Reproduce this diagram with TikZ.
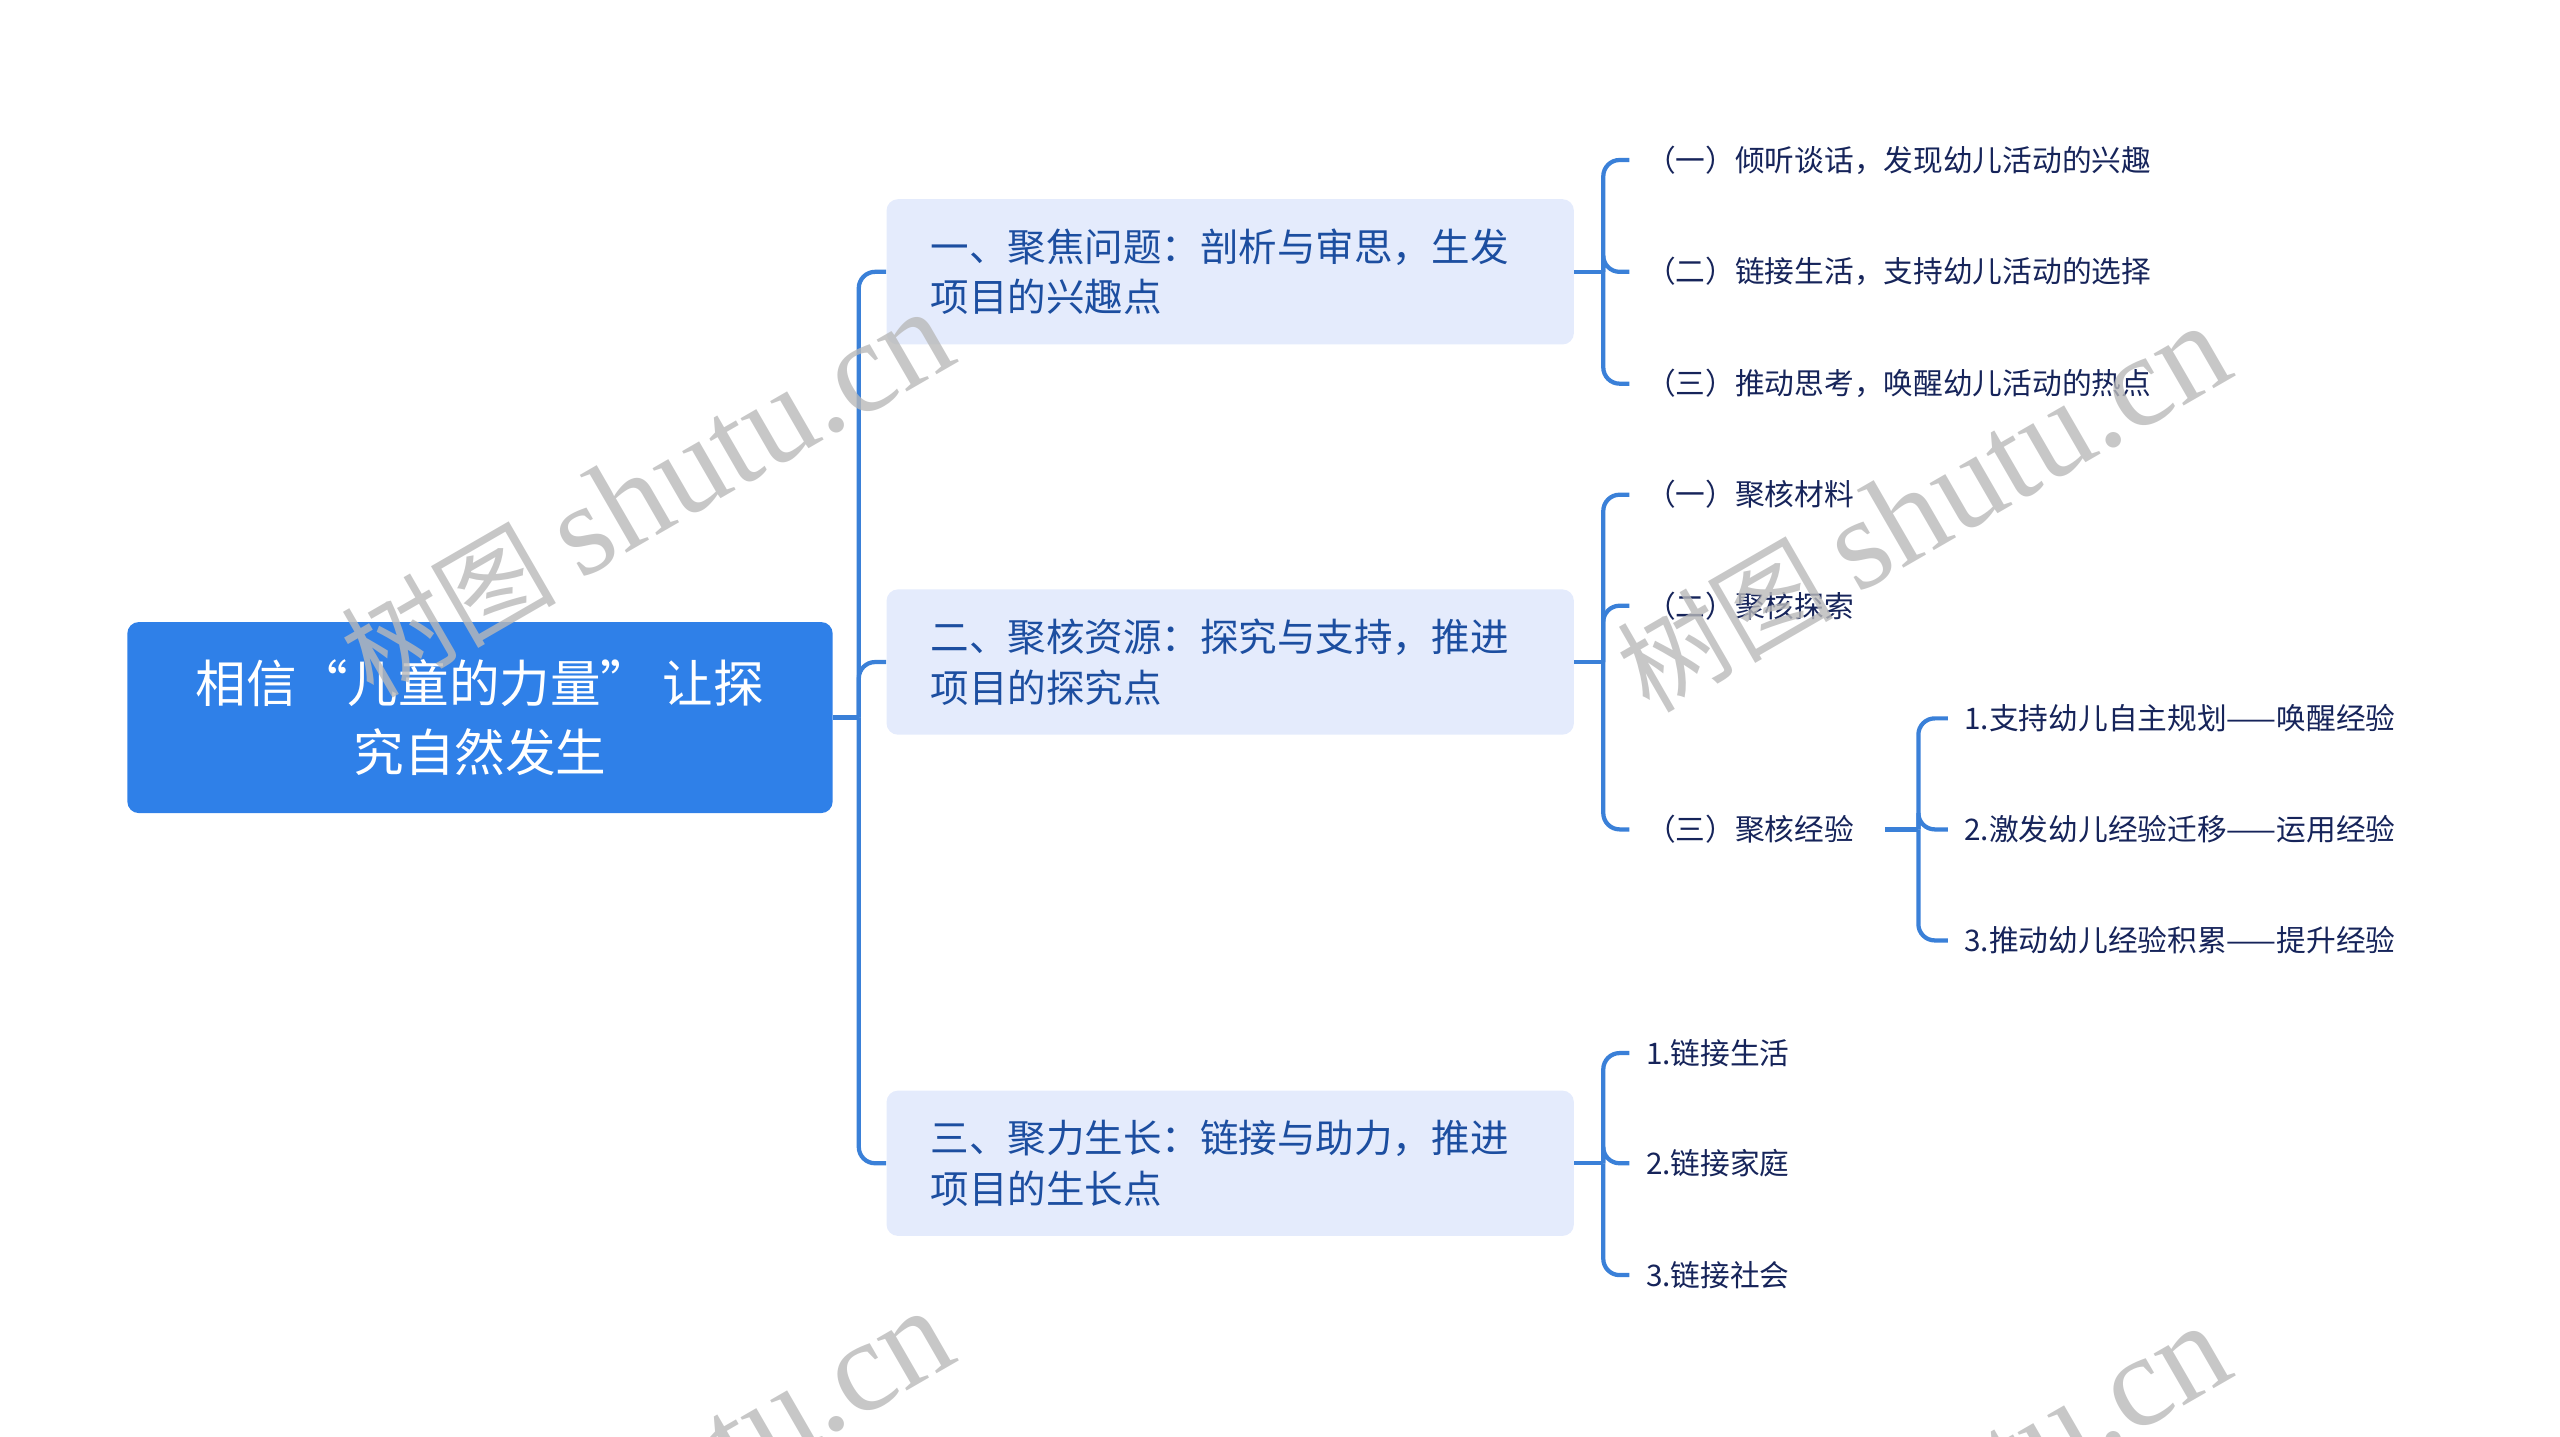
\documentclass[tikz,border=0pt]{standalone}
\usepackage{fontspec}
\setmainfont{Noto Sans CJK SC}
\newfontfamily\markfont{Liberation Serif}

\definecolor{rootblue}{RGB}{47,128,232}
\definecolor{boxfill}{RGB}{228,235,252}
\definecolor{boxtext}{RGB}{28,78,160}
\definecolor{leaftext}{RGB}{22,36,90}
\definecolor{linkblue}{RGB}{58,128,216}
\definecolor{markgray}{RGB}{185,185,185}

\tikzset{
  rootbox/.style={fill=rootblue, rounded corners=7pt, minimum width=432pt,
    minimum height=117pt, inner sep=0pt, text=white, align=center,
    font=\fontsize{31}{42}\selectfont},
  topicbox/.style={fill=boxfill, rounded corners=7pt, text width=367pt,
    inner xsep=27pt, inner ysep=0pt, minimum height=89pt, text=boxtext,
    align=left, font=\fontsize{23.6}{31}\selectfont},
  leaf/.style={anchor=west, inner xsep=10pt, inner ysep=0pt, text=leaftext,
    font=\fontsize{18.2}{20}\selectfont},
  link/.style={draw=linkblue, line width=2.6pt, rounded corners=10pt},
  watermark/.style={rotate=30, text=markgray, opacity=0.8}
}

\begin{document}
\begin{tikzpicture}[x=1pt,y=-1pt]
	\useasboundingbox (0,0) rectangle (1568,880);

	% Arrel
	\node[rootbox] (root) at (294,439.5) {相信“儿童的力量” 让探\\究自然发生};

	% Temes
	\node[topicbox] (t1) at (753.5,166.5) {一、聚焦问题：剖析与审思，生发\\项目的兴趣点};
	\node[topicbox] (t2) at (753.5,405.5) {二、聚核资源：探究与支持，推进\\项目的探究点};
	\node[topicbox] (t3) at (753.5,712.5) {三、聚力生长：链接与助力，推进\\项目的生长点};

	\coordinate (J0) at (526,439.5);
	\draw[link] (root.east) -- (J0);
	\draw[link] (J0) |- (t1.west);
	\draw[link] (J0) |- (t2.west);
	\draw[link] (J0) |- (t3.west);

	% Primer tema
	\node[leaf] (a1) at (998,98)  {（一）倾听谈话，发现幼儿活动的兴趣};
	\node[leaf] (a2) at (998,166.5) {（二）链接生活，支持幼儿活动的选择};
	\node[leaf] (a3) at (998,235) {（三）推动思考，唤醒幼儿活动的热点};

	\coordinate (J1) at (982,166.5);
	\draw[link] (t1.east) -- (J1);
	\draw[link] (J1) |- (a1.west);
	\draw[link] (J1) |- (a2.west);
	\draw[link] (J1) |- (a3.west);

	% Segon tema
	\node[leaf] (b1) at (998,303) {（一）聚核材料};
	\node[leaf] (b2) at (998,371) {（二）聚核探索};
	\node[leaf] (b3) at (998,508) {（三）聚核经验};

	\coordinate (J2) at (982,405.5);
	\draw[link] (t2.east) -- (J2);
	\draw[link] (J2) |- (b1.west);
	\draw[link] (J2) |- (b2.west);
	\draw[link] (J2) |- (b3.west);

	\node[leaf] (c1) at (1193,440) {1.支持幼儿自主规划——唤醒经验};
	\node[leaf] (c2) at (1193,508) {2.激发幼儿经验迁移——运用经验};
	\node[leaf] (c3) at (1193,576) {3.推动幼儿经验积累——提升经验};

	\coordinate (J3) at (1175,508);
	\draw[link] ([xshift=9pt]b3.east) -- (J3);
	\draw[link] (J3) |- (c1.west);
	\draw[link] (J3) |- (c2.west);
	\draw[link] (J3) |- (c3.west);

	% Tercer tema
	\node[leaf] (d1) at (998,645) {1.链接生活};
	\node[leaf] (d2) at (998,712.5) {2.链接家庭};
	\node[leaf] (d3) at (998,781) {3.链接社会};

	\coordinate (J4) at (982,712.5);
	\draw[link] (t3.east) -- (J4);
	\draw[link] (J4) |- (d1.west);
	\draw[link] (J4) |- (d2.west);
	\draw[link] (J4) |- (d3.west);

	% Marca d'aigua
	\begin{scope}
		\clip (0,0) rectangle (1568,880);
		\foreach \mx/\my [count=\i] in {396/303, 1178/312, 396/915, 1178/924}
			\node[watermark] (mark\i) at (\mx,\my)
				{\fontsize{66}{66}\selectfont 树图 \markfont\fontsize{80}{80}\selectfont shutu.cn};
	\end{scope}

\end{tikzpicture}
\end{document}
